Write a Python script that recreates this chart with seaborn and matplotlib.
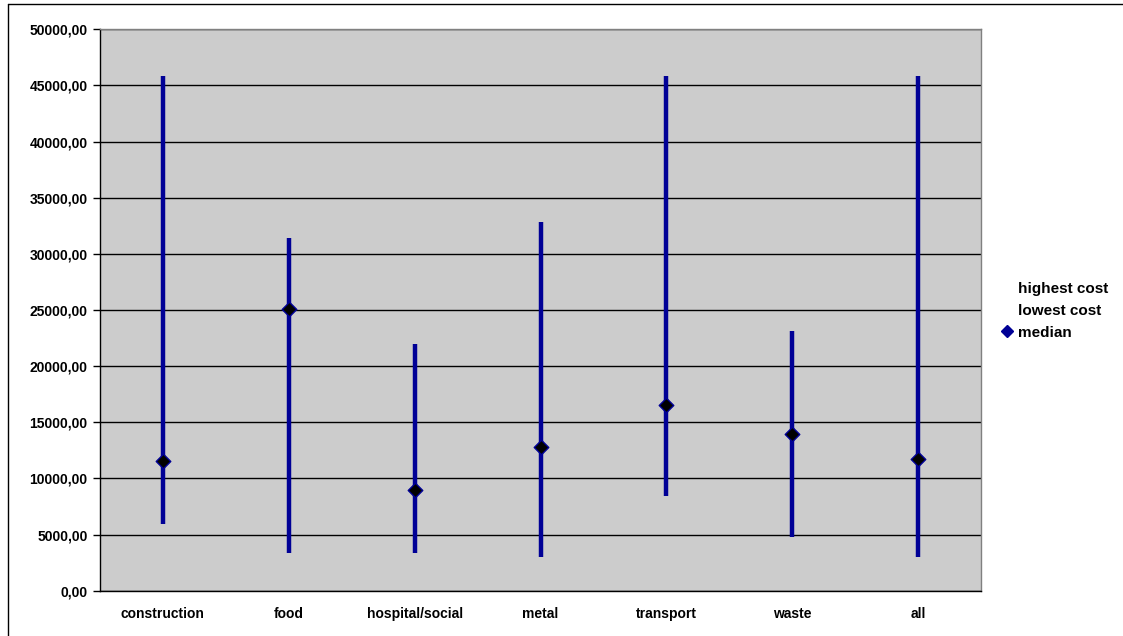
import matplotlib
matplotlib.use("Agg")
import matplotlib.pyplot as plt
from matplotlib.lines import Line2D
from matplotlib.ticker import MultipleLocator, FixedLocator, FuncFormatter
import seaborn as sns
import pandas as pd

# Cost ranges per sector
categories = ["construction", "food", "hospital/social", "metal", "transport", "waste", "all"]
highest_cost = [45800, 31400, 22000, 32800, 45800, 23100, 45800]
lowest_cost = [5900, 3350, 3400, 3000, 8400, 4800, 3000]
median_cost = [11550, 25100, 9000, 12800, 16500, 14000, 11700]

df = pd.DataFrame({"sector": categories, "high": highest_cost,
                   "low": lowest_cost, "median": median_cost})

sns.set_style("white")
plt.rcParams["font.family"] = ["Liberation Sans", "DejaVu Sans"]
plt.rcParams["font.weight"] = "bold"
plt.rcParams["text.color"] = "black"
plt.rcParams["xtick.color"] = "black"
plt.rcParams["ytick.color"] = "black"

W, H = 1123, 636
fig = plt.figure(figsize=(W / 100, H / 100), dpi=100)
ax = fig.add_axes([100 / W, (H - 590.7) / H, (981 - 100) / W, (590.7 - 29.3) / H])
ax.set_facecolor("#CCCCCC")

navy = "#000096"
pos = range(len(categories))
ax.vlines(pos, df["low"], df["high"], color=navy, linewidth=3.2, zorder=3)
sns.scatterplot(data=df, x="sector", y="median", marker="D", s=55,
                color="black", edgecolor=navy, linewidth=1, zorder=4,
                ax=ax, legend=False)

ax.set_xlim(-0.5, len(categories) - 0.5)
ax.set_ylim(0, 50000)
ax.yaxis.set_major_locator(MultipleLocator(5000))
ax.yaxis.set_major_formatter(FuncFormatter(lambda v, p: f"{v:.2f}".replace(".", ",")))
ax.grid(axis="y", color="black", linewidth=1)
ax.set_axisbelow(True)

ax.xaxis.set_major_locator(FixedLocator(list(pos)))
ax.set_xticklabels(categories)
ax.xaxis.set_minor_locator(FixedLocator([i - 0.5 for i in range(len(categories) + 1)]))
ax.tick_params(axis="x", which="major", length=0, pad=12, labelsize=10, labelcolor="black")
ax.tick_params(axis="x", which="minor", length=6, width=1, color="black", direction="out")
ax.tick_params(axis="y", which="major", length=5, width=1, color="black",
               direction="out", left=True, labelsize=10, pad=4, labelcolor="black")
for lab in ax.get_xticklabels() + ax.get_yticklabels():
    lab.set_fontweight("bold")
ax.set_xlabel("")
ax.set_ylabel("")

for side in ["left", "bottom"]:
    ax.spines[side].set_color("black")
    ax.spines[side].set_linewidth(1)
for side in ["top", "right"]:
    ax.spines[side].set_color("#808080")
    ax.spines[side].set_linewidth(1)

handles = [
    Line2D([], [], linestyle="none", marker="None"),
    Line2D([], [], linestyle="none", marker="None"),
    Line2D([], [], linestyle="none", marker="D", markersize=6,
           markerfacecolor=navy, markeredgecolor=navy),
]
fig.legend(handles, ["highest cost", "lowest cost", "median"],
           loc="center left", bbox_to_anchor=(988 / W, 1 - 311 / H),
           frameon=False, handlelength=0.7, handletextpad=0.35,
           labelspacing=0.5, prop={"weight": "bold", "size": 11})

# outer chart border
fig.add_artist(Line2D([8 / W, 8 / W], [0, 1 - 4 / H], transform=fig.transFigure,
                      color="black", linewidth=1))
fig.add_artist(Line2D([8 / W, 1], [1 - 4 / H, 1 - 4 / H], transform=fig.transFigure,
                      color="black", linewidth=1))

fig.savefig("out.png", dpi=100, facecolor="white")
